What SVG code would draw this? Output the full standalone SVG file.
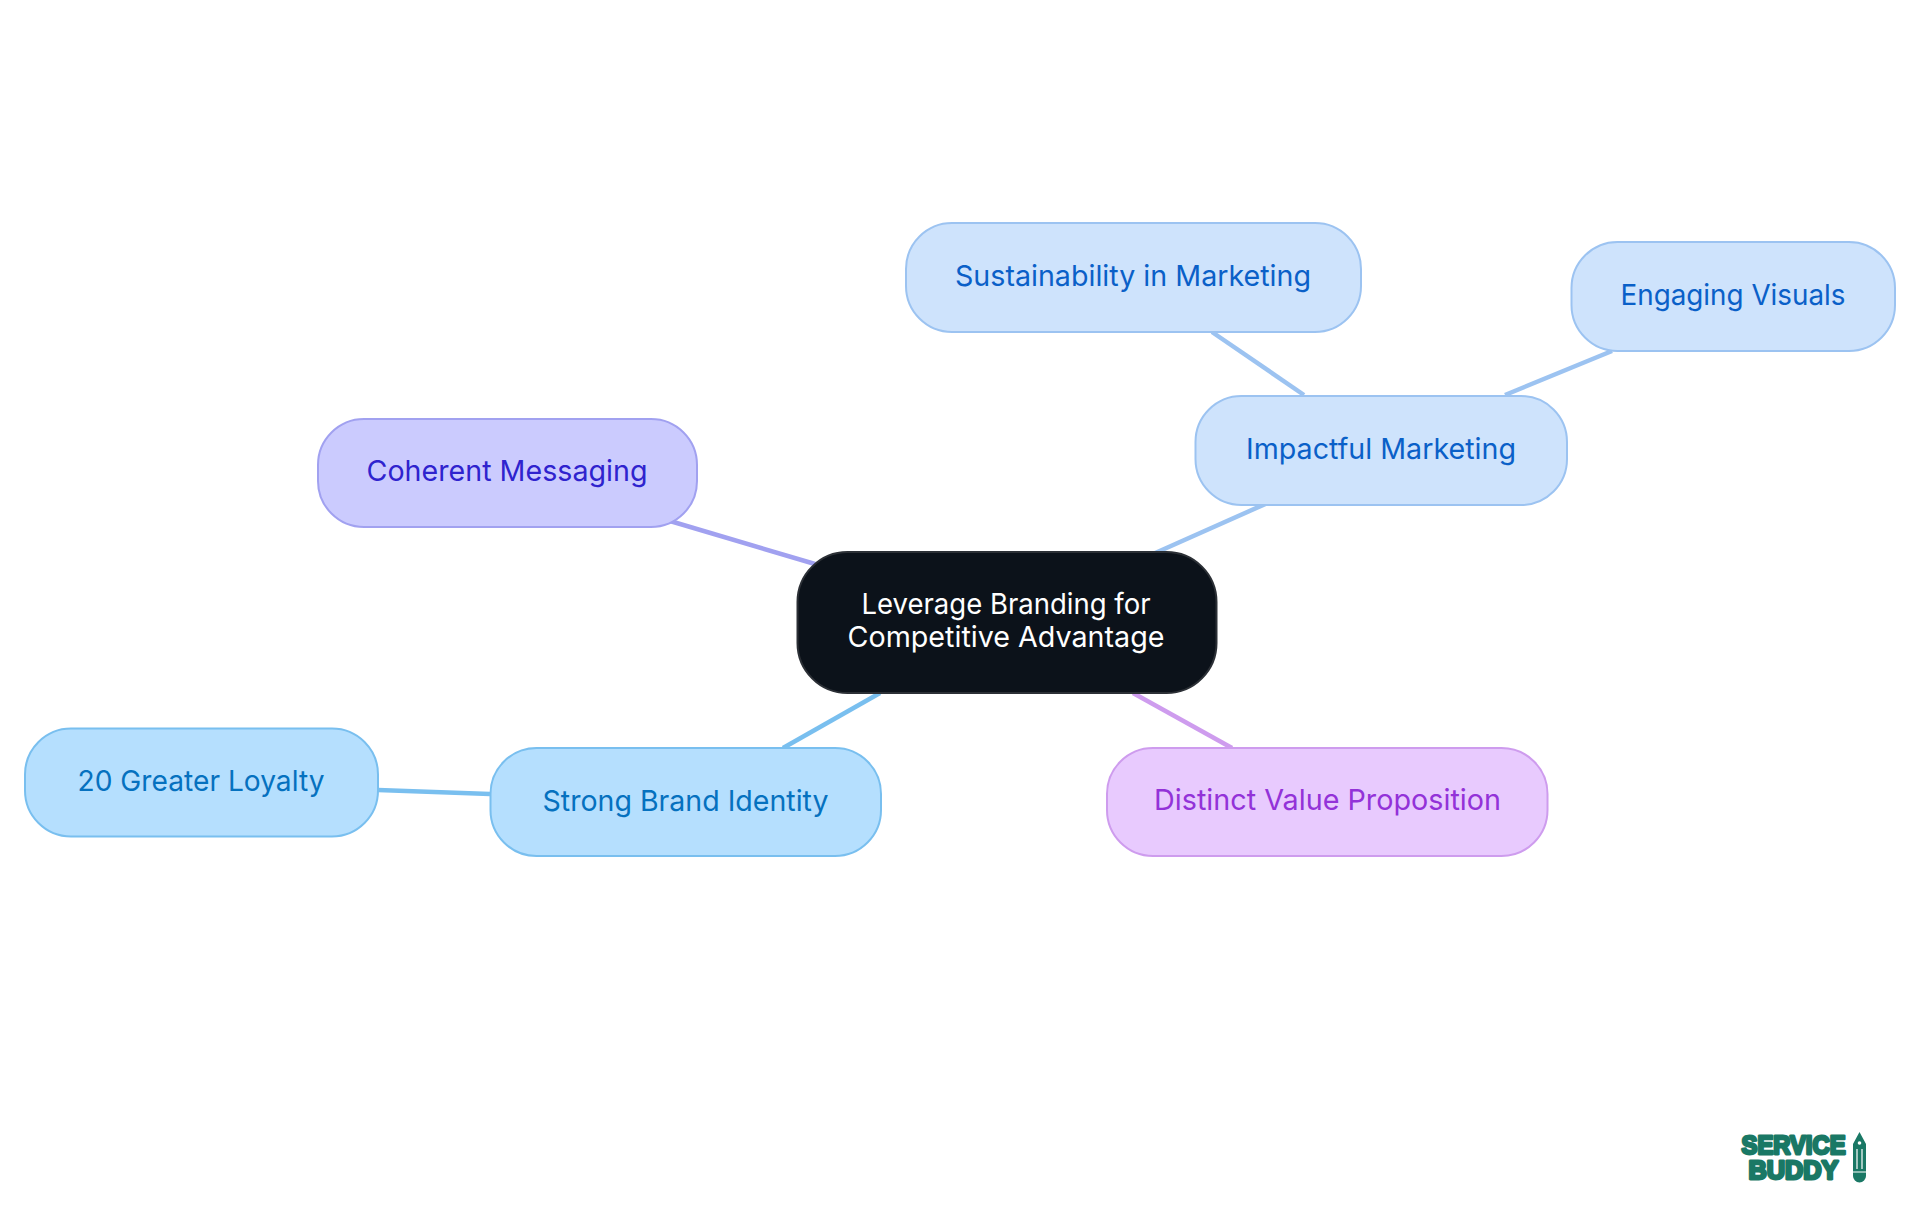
<svg xmlns="http://www.w3.org/2000/svg" width="1920" height="1215" viewBox="0 0 1920 1215">
<style>
text{font-family:"Inter","Open Sans","Liberation Sans",sans-serif;font-size:29px;font-weight:400;text-anchor:middle}
.n rect{stroke-width:2}
.c line{stroke-width:4.5;fill:none}
.blue rect{fill:#cee3fc;stroke:#9cc3f1}.blue text{fill:#0a60c8}
.sky rect{fill:#b5dffe;stroke:#79bfef}.sky text{fill:#0571bf}
.ind rect{fill:#cbcbfe;stroke:#a1a1f0}.ind text{fill:#2f23ce}
.pur rect{fill:#e8cafe;stroke:#ce9cee}.pur text{fill:#9332d8}
.logo{font-family:"Liberation Sans",sans-serif;font-weight:bold;font-size:22px;stroke:#1a7865;stroke-width:2.400;stroke-linejoin:round;fill:#1a7865}
</style>
<rect width="1920" height="1215" fill="#fff"/>
<g id="connectors" class="c">
<line x1="1135" y1="562" x2="1290" y2="493" stroke="#9cc3f1"/>
<line x1="1212" y1="332" x2="1304" y2="395" stroke="#9cc3f1"/>
<line x1="1505" y1="395" x2="1612" y2="351" stroke="#9cc3f1"/>
<line x1="670" y1="521" x2="815" y2="564" stroke="#a1a1f0"/>
<line x1="880" y1="693" x2="783" y2="748" stroke="#79bfef"/>
<line x1="378" y1="790" x2="490" y2="794" stroke="#79bfef"/>
<line x1="1133" y1="693" x2="1232" y2="748" stroke="#ce9cee"/>
</g>
<g id="root" class="n"><rect x="797.500" y="552" width="419" height="141" rx="50" fill="#0c121a" stroke="#2c3036"/>
<text x="1006" y="614" fill="#fff" textLength="289" lengthAdjust="spacingAndGlyphs">Leverage Branding for</text>
<text x="1006" y="647" fill="#fff" textLength="317" lengthAdjust="spacingAndGlyphs">Competitive Advantage</text></g>
<g id="impactful" class="n blue"><rect x="1195.500" y="396" width="371.500" height="109" rx="46"/><text x="1381" y="459" textLength="270" lengthAdjust="spacingAndGlyphs">Impactful Marketing</text></g>
<g id="sustainability" class="n blue"><rect x="906" y="223" width="455" height="109" rx="46"/><text x="1133" y="286" textLength="356" lengthAdjust="spacingAndGlyphs">Sustainability in Marketing</text></g>
<g id="visuals" class="n blue"><rect x="1571.500" y="242" width="323.500" height="109" rx="46"/><text x="1733" y="305" textLength="225" lengthAdjust="spacingAndGlyphs">Engaging Visuals</text></g>
<g id="coherent" class="n ind"><rect x="318" y="419" width="379" height="108" rx="46"/><text x="507" y="481" textLength="281" lengthAdjust="spacingAndGlyphs">Coherent Messaging</text></g>
<g id="identity" class="n sky"><rect x="490.500" y="748" width="390.500" height="108" rx="46"/><text x="685.500" y="811" textLength="286" lengthAdjust="spacingAndGlyphs">Strong Brand Identity</text></g>
<g id="loyalty" class="n sky"><rect x="25" y="728.500" width="353" height="108" rx="46"/><text x="201" y="791" textLength="247" lengthAdjust="spacingAndGlyphs">20 Greater Loyalty</text></g>
<g id="proposition" class="n pur"><rect x="1107" y="748" width="440.500" height="108" rx="46"/><text x="1327.500" y="810" textLength="347" lengthAdjust="spacingAndGlyphs">Distinct Value Proposition</text></g>
<g id="logo">
<text class="logo" transform="translate(1793.500 1154) scale(1 1.200)"><tspan x="0" y="0" textLength="104" lengthAdjust="spacingAndGlyphs">SERVICE</tspan><tspan x="0" y="20.830" textLength="90" lengthAdjust="spacingAndGlyphs">BUDDY</tspan></text>
<path fill="#1a7865" d="M1859.500 1132l6.500 12v32a6.500 6.500 0 0 1-13 0v-32z"/>
<path d="M1857 1149v20M1862 1149v20M1853 1172h13" stroke="#fff" stroke-width="1.2" fill="none"/>
<circle cx="1859.500" cy="1143" r="1.800" fill="#fff"/>
</g>
</svg>
